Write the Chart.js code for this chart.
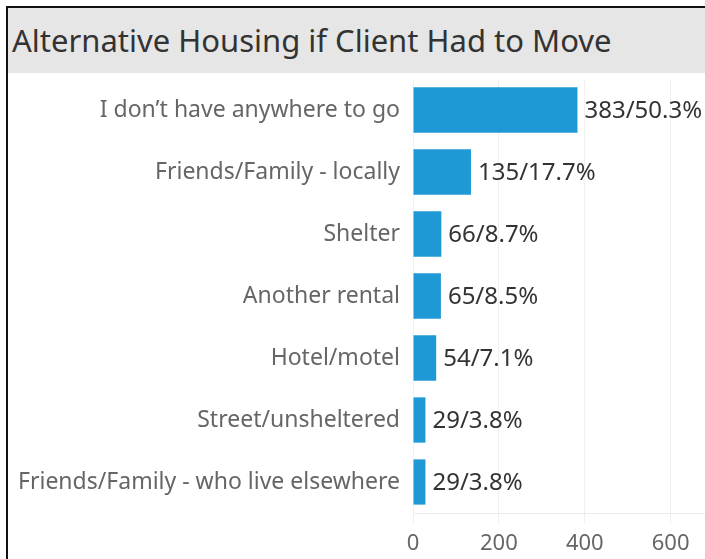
<!DOCTYPE html>
<html>
<head>
<meta charset="utf-8">
<script src="https://cdn.jsdelivr.net/npm/chart.js@4"></script>
<style>
    body { margin: 0; background: #fff; overflow: hidden; }
    #frame {
        position: absolute; left: 6px; top: 6px; width: 705px; height: 560px;
        border-left: 2px solid #111; border-top: 2px solid #111;
    }
    #title {
        position: absolute; left: 0; top: 0; width: 705px; height: 65px;
        background: #e6e6e6; color: #333;
        font-family: "Noto Sans", sans-serif; font-size: 31px;
        line-height: 64px; padding-left: 4px; box-sizing: border-box;
    }
    #wrap { position: absolute; left: 8px; top: 74px; width: 697px; height: 485px; }
</style>
</head>
<body>
<div id="frame"><div id="title">Alternative Housing if Client Had to Move</div></div>
<div id="wrap"><canvas id="housingChart"></canvas></div>
<script>
const categories = [
    'I don\u2019t have anywhere to go',
    'Friends/Family - locally',
    'Shelter',
    'Another rental',
    'Hotel/motel',
    'Street/unsheltered',
    'Friends/Family - who live elsewhere'
];
const counts = [383, 135, 66, 65, 54, 29, 29];
const percents = ['50.3%', '17.7%', '8.7%', '8.5%', '7.1%', '3.8%', '3.8%'];
const xTicks = [0, 200, 400, 600];

const fontFamily = '"Noto Sans", sans-serif';

// value labels next to each bar
const barLabels = {
    id: 'barLabels',
    afterDatasetsDraw(chart) {
        const ctx = chart.ctx;
        const meta = chart.getDatasetMeta(0);
        ctx.save();
        ctx.font = '24px ' + fontFamily;
        ctx.fillStyle = '#333';
        ctx.textBaseline = 'middle';
        meta.data.forEach((bar, i) => {
            ctx.fillText(counts[i] + '/' + percents[i], bar.x + 7, bar.y + 1);
        });
        ctx.restore();
    }
};

const ctx = document.getElementById('housingChart').getContext('2d');
new Chart(ctx, {
    type: 'bar',
    data: {
        labels: categories,
        datasets: [{
            data: counts,
            backgroundColor: '#1f99d5',
            categoryPercentage: 1,
            barPercentage: 0.73
        }]
    },
    plugins: [barLabels],
    options: {
        indexAxis: 'y',
        responsive: true,
        maintainAspectRatio: false,
        animation: false,
        layout: { padding: { top: 5, right: 0, left: 0, bottom: 0 } },
        plugins: {
            legend: { display: false },
            tooltip: { enabled: false }
        },
        scales: {
            x: {
                min: 0,
                max: 680,
                afterBuildTicks: axis => {
                    axis.ticks = xTicks.map(v => ({ value: v }));
                },
                afterFit: axis => { axis.height = 46; },
                border: { display: true, color: '#ececec' },
                grid: { color: '#f0f0f0', tickLength: 10, tickColor: '#f0f0f0' },
                ticks: {
                    color: '#666',
                    padding: 8,
                    font: { family: fontFamily, size: 22 }
                }
            },
            y: {
                afterFit: axis => {
                    axis.width = 405;
                    axis.paddingTop = 0;
                    axis.paddingBottom = 0;
                },
                border: { display: false },
                grid: { display: false },
                ticks: {
                    color: '#666',
                    padding: 5,
                    font: { family: fontFamily, size: 23 }
                }
            }
        }
    }
});
</script>
</body>
</html>
